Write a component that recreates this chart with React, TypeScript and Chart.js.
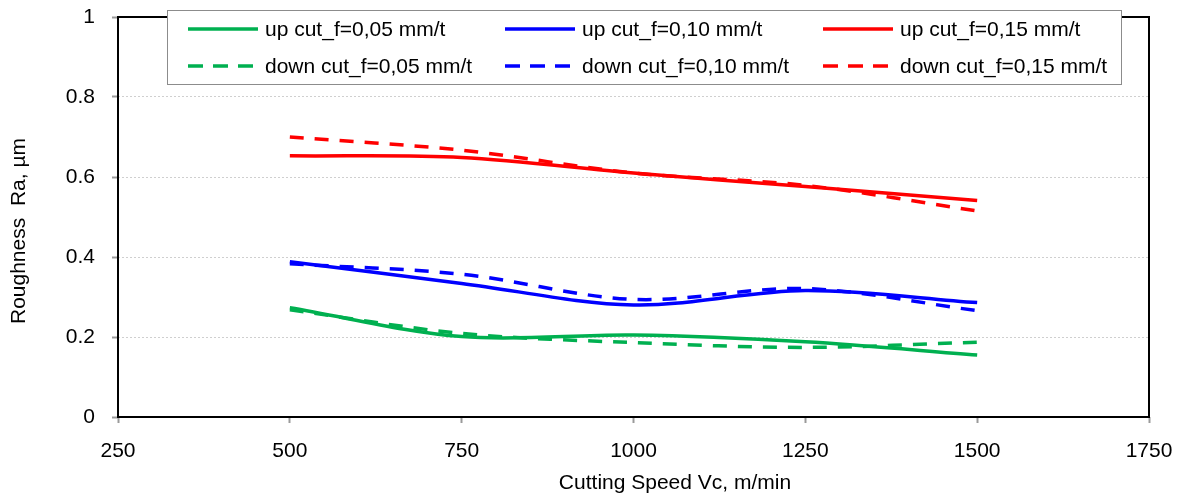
import React, { useEffect, useRef } from "react";
import { Chart, registerables } from "chart.js";

Chart.register(...registerables);

const FONT = "'Liberation Sans', Arial, sans-serif";

// Cutting speed (m/min)
const speeds = [500, 750, 1000, 1250, 1500];

// Roughness Ra (µm)
const upF005 = [0.273, 0.201, 0.205, 0.188, 0.155];
const upF010 = [0.388, 0.334, 0.28, 0.316, 0.286];
const upF015 = [0.653, 0.649, 0.61, 0.576, 0.541];
const downF005 = [0.268, 0.209, 0.186, 0.174, 0.187];
const downF010 = [0.383, 0.357, 0.294, 0.321, 0.266];
const downF015 = [0.7, 0.667, 0.61, 0.579, 0.515];

// Axis tick labels
const xTickValues = [250, 500, 750, 1000, 1250, 1500, 1750];
const xTickLabels = ["250", "500", "750", "1000", "1250", "1500", "1750"];
const yTickValues = [0, 0.2, 0.4, 0.6, 0.8, 1];
const yTickLabels = ["0", "0.2", "0.4", "0.6", "0.8", "1"];

const seriesLabels = [
  "up cut_f=0,05 mm/t",
  "up cut_f=0,10 mm/t",
  "up cut_f=0,15 mm/t",
  "down cut_f=0,05 mm/t",
  "down cut_f=0,10 mm/t",
  "down cut_f=0,15 mm/t",
];
const seriesValues = [upF005, upF010, upF015, downF005, downF010, downF015];
const seriesColors = ["#00B050", "#0000FF", "#FF0000", "#00B050", "#0000FF", "#FF0000"];
const seriesDashed = [false, false, false, true, true, true];

const xTitle = "Cutting Speed Vc, m/min";
const yTitle = "Roughness  Ra, µm";

const labelFor = (values: number[], labels: string[], v: number) => {
  const i = values.findIndex((t) => Math.abs(t - v) < 1e-6);
  return i >= 0 ? labels[i] : "";
};

const zeroPad = (s: any) => {
  s.paddingTop = 0;
  s.paddingBottom = 0;
  s.paddingLeft = 0;
  s.paddingRight = 0;
};

const decorPlugin = {
  id: "decor",
  afterDraw(chart: any) {
    const ctx = chart.ctx as CanvasRenderingContext2D;
    const { left, right, top, bottom } = chart.chartArea;
    ctx.save();
    // plot frame
    ctx.strokeStyle = "#000";
    ctx.lineWidth = 2;
    ctx.setLineDash([]);
    ctx.strokeRect(left, top, right - left, bottom - top);

    // axis titles
    ctx.fillStyle = "#000";
    ctx.font = `21px ${FONT}`;
    ctx.textAlign = "center";
    ctx.textBaseline = "middle";
    ctx.fillText(xTitle, 675, 483);
    ctx.save();
    ctx.translate(19, 231);
    ctx.rotate(-Math.PI / 2);
    ctx.fillText(yTitle, 0, 0);
    ctx.restore();

    // legend box
    const bx = 167, by = 10, bw = 954, bh = 74;
    ctx.fillStyle = "#fff";
    ctx.fillRect(bx, by, bw, bh);
    ctx.strokeStyle = "#8c8c8c";
    ctx.lineWidth = 1;
    ctx.strokeRect(bx + 0.5, by + 0.5, bw, bh);
    const cols = [188, 505, 823];
    const rows = [29, 66];
    chart.data.datasets.forEach((ds: any, i: number) => {
      const x0 = cols[i % 3];
      const y0 = rows[Math.floor(i / 3)];
      ctx.strokeStyle = ds.borderColor;
      ctx.lineWidth = 3.5;
      ctx.setLineDash(ds.borderDash && ds.borderDash.length ? [15, 10] : []);
      ctx.beginPath();
      ctx.moveTo(x0, y0);
      ctx.lineTo(x0 + 70, y0);
      ctx.stroke();
      ctx.setLineDash([]);
      ctx.fillStyle = "#000";
      ctx.textAlign = "left";
      ctx.textBaseline = "middle";
      ctx.fillText(ds.label, x0 + 77, y0 + 1);
    });
    ctx.restore();
  },
};

export default function App() {
  const ref = useRef<HTMLCanvasElement>(null);
  useEffect(() => {
    const datasets = seriesLabels.map((label, i) => ({
      label,
      data: speeds.map((s, j) => ({ x: s, y: seriesValues[i][j] })),
      borderColor: seriesColors[i],
      backgroundColor: seriesColors[i],
      borderWidth: 3.5,
      borderDash: seriesDashed[i] ? [14, 11] : [],
      pointRadius: 0,
      tension: 0.33,
      fill: false,
    }));
    const chart = new Chart(ref.current!, {
      type: "line",
      data: { datasets },
      options: {
        animation: false,
        responsive: false,
        devicePixelRatio: 1,
        layout: { padding: { top: 17, right: 33, left: 0, bottom: 0 } },
        plugins: {
          legend: { display: false },
          tooltip: { enabled: false },
        },
        scales: {
          x: {
            type: "linear",
            min: 250,
            max: 1750,
            ticks: {
              stepSize: 250,
              color: "#000",
              font: { family: FONT, size: 21 },
              padding: 16,
              maxRotation: 0,
              callback: (v: any) => labelFor(xTickValues, xTickLabels, Number(v)),
            },
            grid: {
              drawOnChartArea: false,
              drawTicks: true,
              tickLength: 6,
              tickColor: "#9a9a9a",
              tickWidth: 2,
            },
            border: { display: false },
            afterFit: (s: any) => {
              s.height = 80;
              zeroPad(s);
            },
          },
          y: {
            type: "linear",
            min: 0,
            max: 1,
            ticks: {
              stepSize: 0.2,
              color: "#000",
              font: { family: FONT, size: 21 },
              padding: 17,
              callback: (v: any) => labelFor(yTickValues, yTickLabels, Number(v)),
            },
            grid: {
              color: "#cfcfcf",
              lineWidth: 1,
              drawTicks: true,
              tickLength: 6,
              tickColor: "#9a9a9a",
              tickWidth: 2,
              tickBorderDash: [],
            },
            border: { display: false, dash: [2, 2] },
            afterFit: (s: any) => {
              s.width = 118;
              zeroPad(s);
            },
          },
        },
      },
      plugins: [decorPlugin],
    });
    return () => chart.destroy();
  }, []);
  return (
    <div style={{ position: "fixed", left: 0, top: 0, width: 1182, height: 497, background: "#fff" }}>
      <canvas ref={ref} width={1182} height={497} style={{ display: "block" }} />
    </div>
  );
}
